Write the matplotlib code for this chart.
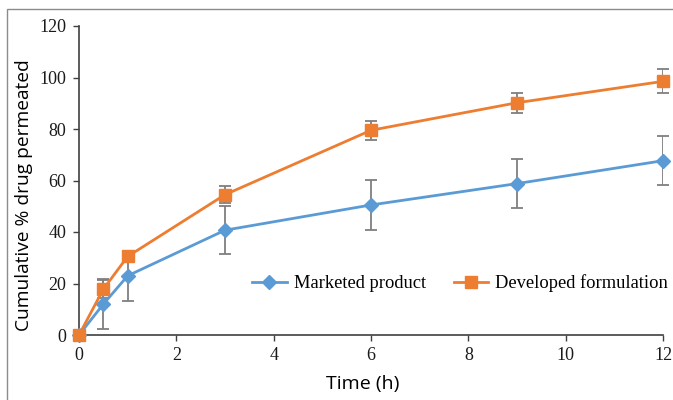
# cumulative drug permeation profile: marketed vs developed formulation
import matplotlib
matplotlib.use("Agg")
from matplotlib import pyplot as plt
from matplotlib.patches import Rectangle

time_h = [0, 0.5, 1, 3, 6, 9, 12]
marketed = [0, 12.0, 23.0, 40.7, 50.5, 58.8, 67.7]
marketed_err = [0, 9.6, 9.7, 9.4, 9.7, 9.5, 9.5]
developed = [0, 17.8, 30.5, 54.5, 79.5, 90.2, 98.5]
developed_err = [0, 3.4, 2.0, 3.2, 3.6, 3.9, 4.7]

x_ticks = [0, 2, 4, 6, 8, 10, 12]
y_ticks = [0, 20, 40, 60, 80, 100, 120]

BLUE = "#5B9BD5"
ORANGE = "#ED7D31"
GREY = "#7F7F7F"
SERIF = "Liberation Serif"

fig = plt.figure(figsize=(6.73, 4.0), dpi=100)
ax = fig.add_axes([0.1174, 0.1625, 0.8678, 0.7725])

# outer frame of the figure (cut at right/bottom edge)
fig.patches.append(Rectangle((7 / 673, -0.1), 1.2, 1 - 9 / 400 + 0.1,
                             transform=fig.transFigure, fill=False,
                             edgecolor="#8c8c8c", linewidth=1.0))

ax.errorbar(time_h, marketed, yerr=marketed_err, fmt="none", ecolor=GREY,
            elinewidth=1.3, capsize=4, capthick=1.3, zorder=2)
ax.errorbar(time_h, developed, yerr=developed_err, fmt="none", ecolor=GREY,
            elinewidth=1.3, capsize=4, capthick=1.3, zorder=2)
ax.plot(time_h, marketed, color=BLUE, marker="D", markersize=7, linewidth=2.0,
        label="Marketed product", zorder=3)
ax.plot(time_h, developed, color=ORANGE, marker="s", markersize=8.5, linewidth=2.0,
        label="Developed formulation", zorder=3)

ax.set_xlim(0, 12)
ax.set_ylim(0, 120)
ax.set_xticks(x_ticks)
ax.set_yticks(y_ticks)
ax.spines["top"].set_visible(False)
ax.spines["right"].set_visible(False)
for side in ("left", "bottom"):
    ax.spines[side].set_color("#404040")
    ax.spines[side].set_linewidth(1.2)
ax.tick_params(direction="out", length=4, width=1.0, color="#404040",
               labelsize=13, labelfontfamily=SERIF, labelcolor="#1a1a1a")
ax.tick_params(axis="x", pad=5)
ax.tick_params(axis="y", pad=5)

ax.set_xlabel("Time (h)", fontfamily="Open Sans", fontsize=14)
ax.set_ylabel("Cumulative % drug permeated", fontfamily="Open Sans", fontsize=13.8)
ax.xaxis.set_label_coords(0.486, -0.128)
ax.yaxis.set_label_coords(-0.079, 0.453)
for line in ax.lines:
    line.set_clip_on(False)

leg = ax.legend(ncol=2, frameon=False, loc="center right",
                bbox_to_anchor=(1.0086, 0.168), prop={"family": SERIF, "size": 13.3},
                handlelength=1.85, columnspacing=1.5, handletextpad=0.4,
                borderpad=0, borderaxespad=0)

fig.savefig("out.png", dpi=100)
